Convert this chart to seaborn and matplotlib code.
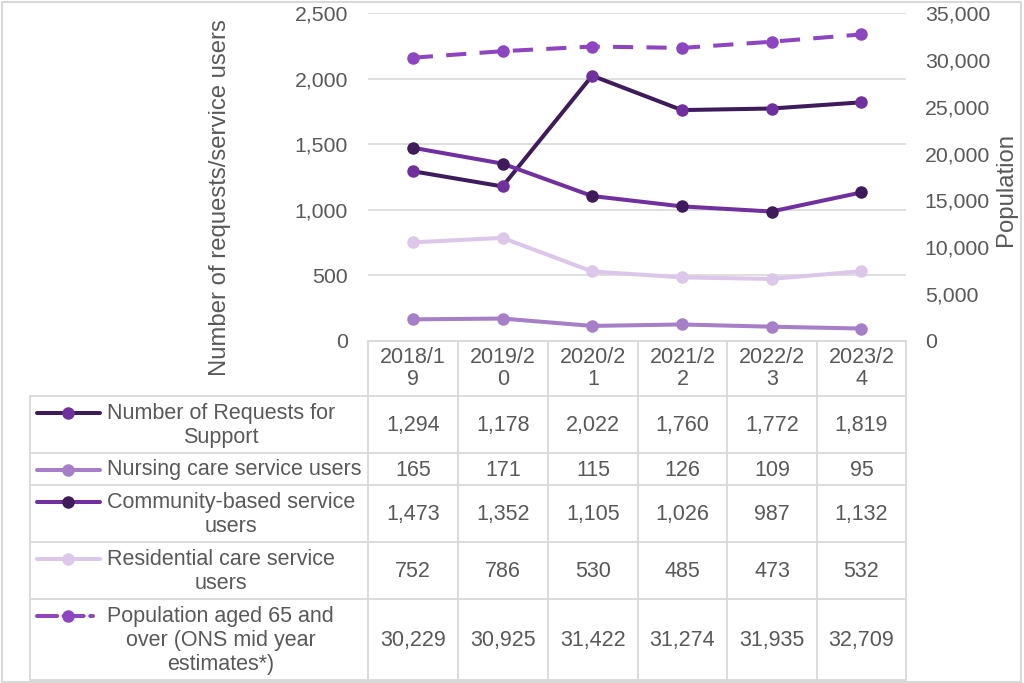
import numpy as np
import seaborn as sns
import matplotlib.pyplot as plt
import matplotlib.ticker as mticker
from matplotlib.patches import Rectangle

years = ["2018/19", "2019/20", "2020/21", "2021/22", "2022/23", "2023/24"]
year_labels = ["2018/1\n9", "2019/2\n0", "2020/2\n1", "2021/2\n2", "2022/2\n3", "2023/2\n4"]

requests = [1294, 1178, 2022, 1760, 1772, 1819]
nursing = [165, 171, 115, 126, 109, 95]
community = [1473, 1352, 1105, 1026, 987, 1132]
residential = [752, 786, 530, 485, 473, 532]
population = [30229, 30925, 31422, 31274, 31935, 32709]

labels = [
    "Number of Requests for\nSupport",
    "Nursing care service users",
    "Community-based service\nusers",
    "Residential care service\nusers",
    "Population aged 65 and\nover (ONS mid year\nestimates*)",
]
series = [requests, nursing, community, residential, population]
line_cols = ["#3f1b5b", "#a67fc8", "#7030a0", "#dcc7ea", "#8e45c2"]
mark_cols = ["#7030a0", "#a67fc8", "#3f1b5b", "#dcc7ea", "#8e45c2"]
dashed = [False, False, False, False, True]

GREY = "#595959"
GRID = "#d9d9d9"
W, H = 1024, 683

sns.set_theme(style="white")
plt.rcParams["font.family"] = ["Liberation Sans", "DejaVu Sans"]

fig = plt.figure(figsize=(W / 100, H / 100), dpi=100)

# overlay in pixel units for the data table
ov = fig.add_axes([0, 0, 1, 1])
ov.set_xlim(0, W)
ov.set_ylim(H, 0)
ov.axis("off")

def px(x, y):
    return x / W, 1 - y / H

x0, y0 = px(368, 341)
x1, y1 = px(906, 13)
ax = fig.add_axes([x0, y0, x1 - x0, y1 - y0])
ax.set_facecolor("none")
ax2 = ax.twinx()

xs = np.arange(len(years))
lw = 2.9
ms = 9
for vals, lc, mc, d in zip(series, line_cols, mark_cols, dashed):
    target = ax2 if d else ax
    sns.lineplot(x=xs, y=vals, ax=target, color=lc, linewidth=lw,
                 marker="o", markersize=ms, markerfacecolor=mc,
                 markeredgecolor=mc, markeredgewidth=0,
                 linestyle=(0, (5, 3.3)) if d else "-")

ax.set_xlim(-0.5, len(years) - 0.5)
ax.set_ylim(0, 2500)
ax.set_yticks(np.arange(0, 2501, 500))
ax2.set_ylim(0, 35000)
ax2.set_yticks(np.arange(0, 35001, 5000))
fmt = mticker.FuncFormatter(lambda v, _: f"{int(v):,}")
ax.yaxis.set_major_formatter(fmt)
ax2.yaxis.set_major_formatter(fmt)
ax.set_xticks([])
ax.set_xlabel("")
ax.set_ylabel("")
ax2.set_ylabel("")
ax.yaxis.grid(True, color=GRID, linewidth=1.2)
ax.tick_params(axis="y", length=0, pad=14.5, labelsize=15.3, labelcolor=GREY)
ax2.tick_params(axis="y", length=0, pad=13.5, labelsize=15.3, labelcolor=GREY)
for a in (ax, ax2):
    for s in a.spines.values():
        s.set_visible(False)

fig.text(*px(220, 198), "Number of requests/service users", rotation=90,
         ha="center", va="center", fontsize=17.2, color=GREY)
fig.text(*px(1006, 190), "Population", rotation=90,
         ha="center", va="center", fontsize=17.2, color=GREY)

# table grid
col_edges = [368, 458, 548, 638, 727, 817, 906]
row_edges = [341, 396, 453, 485, 542, 599, 680]
tab_left = 30
ov.plot([col_edges[0], col_edges[-1]], [row_edges[0]] * 2, color=GRID, lw=1.3)
for r in row_edges[1:]:
    ov.plot([tab_left, col_edges[-1]], [r, r], color=GRID, lw=1.3)
ov.plot([tab_left, tab_left], [row_edges[1], row_edges[-1]], color=GRID, lw=1.3)
for c in col_edges:
    ov.plot([c, c], [row_edges[0], row_edges[-1]], color=GRID, lw=1.3)

# header
for i, lab in enumerate(year_labels):
    cx = (col_edges[i] + col_edges[i + 1]) / 2
    cy = (row_edges[0] + row_edges[1]) / 2
    ov.text(cx, cy, lab, ha="center", va="center", fontsize=15.5,
            color=GREY, linespacing=1.05)

# rows
for j, (lab, vals, lc, mc, d) in enumerate(zip(labels, series, line_cols, mark_cols, dashed)):
    cy = (row_edges[j + 1] + row_edges[j + 2]) / 2 + 1
    nlines = lab.count("\n") + 1
    ky = cy - (nlines - 1) * 12.5
    kx = [37, 68, 93] if d else [37, 68, 100]
    ov.plot(kx, [ky] * 3, color=lc, lw=lw, marker="o", markevery=[1],
            markersize=ms, markerfacecolor=mc, markeredgecolor=mc,
            markeredgewidth=0, linestyle=(0, (5, 1.6)) if d else "-",
            solid_capstyle="round", dash_capstyle="round")
    ov.text(107, cy, lab, ha="left", va="center", multialignment="center",
            fontsize=15.5, color=GREY, linespacing=1.17)
    for i, v in enumerate(vals):
        cx = (col_edges[i] + col_edges[i + 1]) / 2
        ov.text(cx, cy, f"{v:,}", ha="center", va="center",
                fontsize=15.5, color=GREY)

fig.add_artist(Rectangle((0.0015, 0.002), 0.996, 0.995, transform=fig.transFigure,
                         fill=False, edgecolor=GRID, linewidth=1.5))

fig.savefig("out.png", dpi=100)
